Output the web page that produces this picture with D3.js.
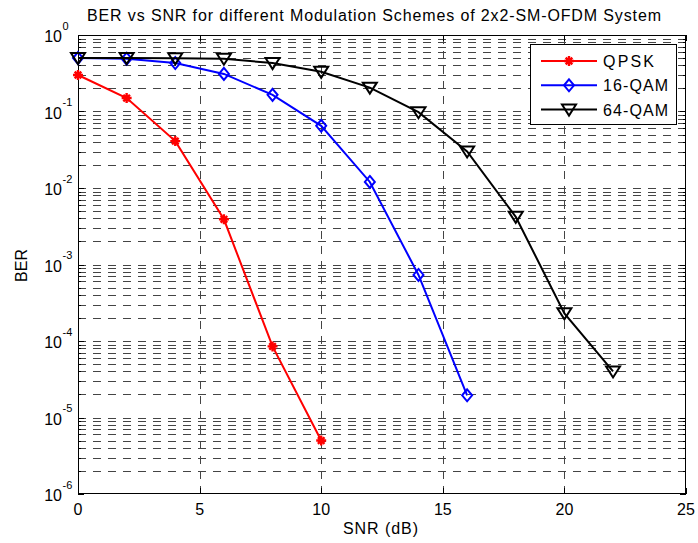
<!DOCTYPE html>
<html><head><meta charset="utf-8">
<script src="https://cdn.jsdelivr.net/npm/d3@7"></script>
<style>body{margin:0;background:#fff}svg{display:block}text{font-family:"Liberation Sans",Arial,sans-serif}</style>
</head><body>
<svg id="c" width="698" height="543"></svg>
<script>
const snr = [0,2,4,6,8,10,12,14,16,18,20,22];
const qpsk = [0.30,0.15,0.041,0.0039,8.5e-5,5e-6];
const qam16 = [0.50,0.49,0.43,0.31,0.165,0.065,0.012,7.3e-4,1.95e-5];
const qam64 = [0.50,0.50,0.495,0.49,0.43,0.33,0.205,0.098,0.030,0.0042,2.3e-4,4.0e-5];
const seriesNames = ["QPSK","16-QAM","64-QAM"];
const seriesColors = ["#ff0000","#0000ff","#000000"];
const xTicks = [0,5,10,15,20,25];
const yExps = [0,-1,-2,-3,-4,-5,-6];

const svg = d3.select("#c");
const L=78,R=686,T=35,B=494;
const x = d3.scaleLinear().domain([0,25]).range([L,R]);
const y = d3.scaleLog().domain([1e-6,1]).range([B,T]);

// grid
const g = svg.append("g");
const minorVals=[];
for(let e=-6;e<0;e++) for(let m=1;m<=9;m++) minorVals.push(m*Math.pow(10,e));
minorVals.push(1);
g.selectAll("line.hg").data(minorVals.filter(v=>v>1e-6&&v<1)).enter().append("line")
 .attr("x1",L).attr("x2",R).attr("y1",d=>Math.round(y(d))+0.5).attr("y2",d=>Math.round(y(d))+0.5)
 .attr("stroke","#444").attr("stroke-width",1).attr("stroke-dasharray","8,7");
g.selectAll("line.vg").data(xTicks.filter(v=>v>0&&v<25)).enter().append("line")
 .attr("x1",d=>Math.round(x(d))+0.5).attr("x2",d=>Math.round(x(d))+0.5).attr("y1",B).attr("y2",T)
 .attr("stroke","#444").attr("stroke-width",1).attr("stroke-dasharray","8,7");

// axes box
svg.append("rect").attr("x",L+0.5).attr("y",T+0.5).attr("width",R-L-1).attr("height",B-T-1)
 .attr("fill","none").attr("stroke","#000").attr("stroke-width",1);
// ticks
const tk=svg.append("g").attr("stroke","#000").attr("stroke-width",1);
xTicks.forEach(v=>{const xx=Math.round(x(v))+0.5;
 tk.append("line").attr("x1",xx).attr("x2",xx).attr("y1",B).attr("y2",B-6);
 tk.append("line").attr("x1",xx).attr("x2",xx).attr("y1",T).attr("y2",T+6);});
minorVals.forEach(v=>{const yy=Math.round(y(v))+0.5;const isMaj=Math.abs(Math.log10(v)-Math.round(Math.log10(v)))<1e-9;const len=isMaj?6:3;
 tk.append("line").attr("x1",L).attr("x2",L+len).attr("y1",yy).attr("y2",yy);
 tk.append("line").attr("x1",R).attr("x2",R-len).attr("y1",yy).attr("y2",yy);});

// tick labels
svg.selectAll("text.xt").data(xTicks).enter().append("text")
 .attr("x",d=>x(d)).attr("y",515).attr("text-anchor","middle").attr("font-size",16).text(d=>d);
yExps.forEach(e=>{const yy=y(Math.pow(10,e));
 svg.append("text").attr("x",62).attr("y",yy+7).attr("text-anchor","end").attr("font-size",16).text("10");
 svg.append("text").attr("x",62.5).attr("y",yy-5.5).attr("font-size",11).text(String(e));});

// labels
svg.append("text").attr("x",343).attr("y",534).attr("font-size",16).attr("textLength",75).attr("lengthAdjust","spacing").text("SNR (dB)");
svg.append("text").attr("transform","translate(26.5,265.5) rotate(-90)").attr("text-anchor","middle").attr("font-size",16).text("BER");
svg.append("text").attr("x",87).attr("y",20.5).attr("font-size",16).attr("textLength",574).attr("lengthAdjust","spacing").text("BER vs SNR for different Modulation Schemes of 2x2-SM-OFDM System");

// markers
function marker(sel,i,cx,cy){
 const c=seriesColors[i];
 if(i===0){
  const r=5,d=3.3;
  sel.append("path").attr("d",`M${cx-r},${cy}L${cx+r},${cy}M${cx},${cy-r}L${cx},${cy+r}M${cx-d},${cy-d}L${cx+d},${cy+d}M${cx-d},${cy+d}L${cx+d},${cy-d}`)
   .attr("stroke",c).attr("stroke-width",2.4).attr("fill","none");
  sel.append("circle").attr("cx",cx).attr("cy",cy).attr("r",2.5).attr("fill",c);
 } else if(i===1){
  sel.append("path").attr("d",`M${cx},${cy-6}L${cx+5},${cy}L${cx},${cy+6}L${cx-5},${cy}Z`)
   .attr("stroke",c).attr("stroke-width",2).attr("fill","none");
 } else {
  sel.append("path").attr("d",`M${cx-7},${cy-5}L${cx+7},${cy-5}L${cx},${cy+6}Z`)
   .attr("stroke",c).attr("stroke-width",2).attr("fill","none").attr("stroke-linejoin","miter");
 }
}
const data=[qpsk,qam16,qam64];
const line=d3.line().x(d=>x(d[0])).y(d=>y(d[1]));
data.forEach((vals,i)=>{
 const pts=vals.map((v,j)=>[snr[j],v]);
 svg.append("path").attr("d",line(pts)).attr("fill","none").attr("stroke",seriesColors[i]).attr("stroke-width",2);
 const mg=svg.append("g");
 pts.forEach(p=>marker(mg,i,x(p[0]),y(p[1])));
});

// legend
svg.append("rect").attr("x",530.5).attr("y",44.5).attr("width",146).attr("height",80)
 .attr("fill","#fff").attr("stroke","#000").attr("stroke-width",1);
const legW=[51,65,65];
seriesNames.forEach((n,i)=>{const ly=61+i*24.3;
 svg.append("line").attr("x1",541).attr("x2",597).attr("y1",ly).attr("y2",ly).attr("stroke",seriesColors[i]).attr("stroke-width",2);
 marker(svg,i,569,ly);
 svg.append("text").attr("x",603).attr("y",ly+6).attr("font-size",16).attr("textLength",legW[i]).attr("lengthAdjust","spacing").text(n);
});
</script>
</body></html>
